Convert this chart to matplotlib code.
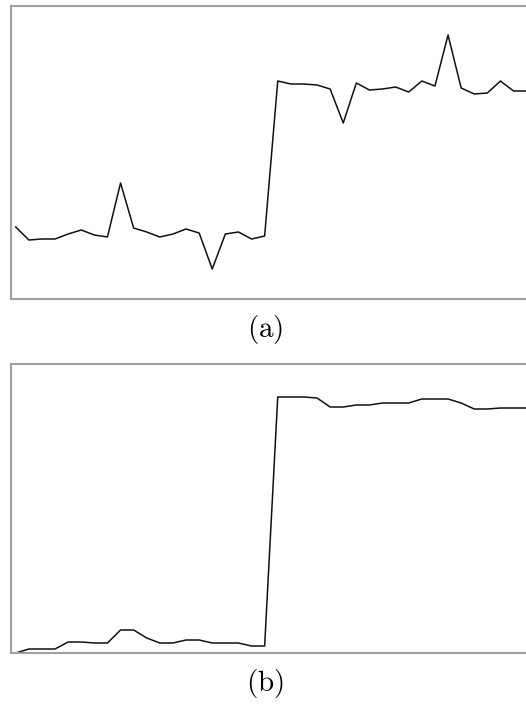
import matplotlib
matplotlib.use("Agg")
import matplotlib.pyplot as plt
import numpy as np

plt.rcParams['mathtext.fontset'] = 'cm'

# Panel (a) values (arbitrary units)
series_a = [72, 59, 60, 60, 65, 69, 64, 62, 116, 71, 67, 62, 65, 70, 66, 30, 65, 67, 60, 63,
            218, 215, 215, 214, 210, 176, 216, 209, 210, 212, 207, 218, 213, 264, 211, 205, 206, 218, 208, 208]
# Panel (b) values (arbitrary units)
series_b = [0, 4, 4, 4, 11, 11, 10, 10, 23, 23, 15, 10, 10, 13, 13, 10, 10, 10, 7, 7,
            256, 256, 256, 255, 246, 246, 248, 248, 250, 250, 250, 254, 254, 254, 250, 244, 244, 245, 245, 245]
labels = ["(a)", "(b)"]

W, H = 526, 704
fig = plt.figure(figsize=(W / 100, H / 100), dpi=100)

px_per_unit = 13.1
x0, x1 = -0.4, 40.0
width_px = (x1 - x0) * px_per_unit
left_px = 10.5

panels = [
    (series_a, 6, 299, (0, 293), labels[0], 329),
    (series_b, 364, 653, (0, 289), labels[1], 683),
]

for data, top, bottom, ylim, lab, ly in panels:
    ax = fig.add_axes([left_px / W, (H - bottom) / H, width_px / W, (bottom - top) / H])
    x = np.arange(len(data))
    ax.plot(x, data, color='#111111', linewidth=1.1)
    ax.set_xlim(x0, x1)
    ax.set_ylim(*ylim)
    ax.set_xticks([])
    ax.set_yticks([])
    for s in ax.spines.values():
        s.set_color('#a0a0a0')
        s.set_linewidth(1.5)
    fig.text(265 / W, 1 - ly / H, r'$\mathrm{' + lab + '}$', ha='center', va='center', fontsize=21)

fig.savefig("out.png", dpi=100)
